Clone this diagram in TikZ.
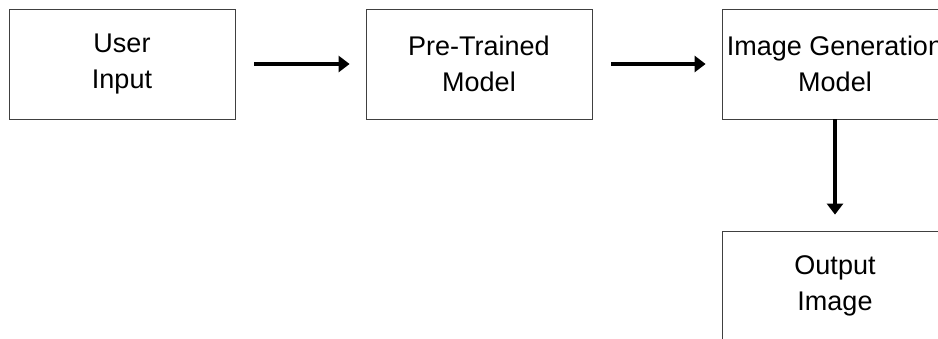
\documentclass[tikz,border=0pt]{standalone}
\usepackage{fontspec}
\setmainfont{Liberation Sans}
\usetikzlibrary{arrows.meta}
\tikzset{
  stagebox/.style={draw=black!75, line width=0.8pt, minimum width=226pt, minimum height=110pt,
    inner sep=0pt, align=center, font=\fontsize{27}{36}\selectfont},
  flowarrow/.style={line width=3.6pt, -{Triangle[length=11pt,width=16pt]}}
}

\begin{document}
\begin{tikzpicture}[x=1pt, y=-1pt]
              \useasboundingbox (0,0) rectangle (938,338);
              \node[stagebox] (user) at (122,64) {User\\Input};
              \node[stagebox] (pretrained) at (479,64) {Pre-Trained\\Model};
              \node[stagebox] (imagegen) at (835,64) {Image Generation\\Model};
              \node[stagebox] (output) at (835,286) {Output\\Image};
              \draw[flowarrow, shorten <=19pt, shorten >=16pt] (user) -- (pretrained);
              \draw[flowarrow, shorten <=19pt, shorten >=16pt] (pretrained) -- (imagegen);
              \draw[flowarrow, shorten >=16pt] (imagegen) -- (output);
            \end{tikzpicture}
\end{document}
